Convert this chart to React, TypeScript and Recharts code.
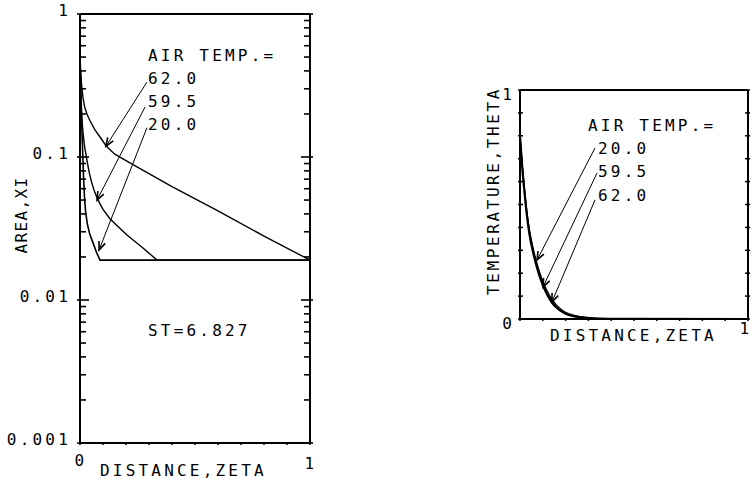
import React from "react";
import { LineChart, Line, XAxis, YAxis, ReferenceLine } from "recharts";

// left panel: AREA, XI (log scale) vs DISTANCE, ZETA
const area62 = [
  { x: 0, y: 0.5 }, { x: 0.003, y: 0.4 }, { x: 0.007, y: 0.32 }, { x: 0.013, y: 0.26 },
  { x: 0.02, y: 0.225 }, { x: 0.03, y: 0.2 }, { x: 0.043, y: 0.18 }, { x: 0.065, y: 0.155 },
  { x: 0.087, y: 0.138 }, { x: 0.113, y: 0.12 }, { x: 0.15, y: 0.105 }, { x: 0.217, y: 0.091 },
  { x: 0.4, y: 0.062 }, { x: 0.6, y: 0.042 }, { x: 0.8, y: 0.028 }, { x: 1, y: 0.019 },
];
const area595 = [
  { x: 0, y: 0.5 }, { x: 0.002, y: 0.36 }, { x: 0.005, y: 0.25 }, { x: 0.009, y: 0.18 },
  { x: 0.013, y: 0.148 }, { x: 0.02, y: 0.118 }, { x: 0.03, y: 0.095 }, { x: 0.04, y: 0.078 },
  { x: 0.05, y: 0.067 }, { x: 0.062, y: 0.058 }, { x: 0.074, y: 0.052 }, { x: 0.087, y: 0.047 },
  { x: 0.1, y: 0.043 }, { x: 0.13, y: 0.037 }, { x: 0.204, y: 0.0285 }, { x: 0.27, y: 0.0234 },
  { x: 0.335, y: 0.019 }, { x: 1, y: 0.019 },
];
const area20 = [
  { x: 0, y: 0.5 }, { x: 0.002, y: 0.34 }, { x: 0.005, y: 0.22 }, { x: 0.008, y: 0.16 },
  { x: 0.011, y: 0.115 }, { x: 0.015, y: 0.075 }, { x: 0.019, y: 0.054 }, { x: 0.024, y: 0.042 },
  { x: 0.032, y: 0.034 }, { x: 0.042, y: 0.029 }, { x: 0.057, y: 0.025 }, { x: 0.072, y: 0.0215 },
  { x: 0.087, y: 0.019 }, { x: 1, y: 0.019 },
];

// right panel: TEMPERATURE, THETA vs DISTANCE, ZETA
const theta20 = [
  { x: 0, y: 0.8 }, { x: 0.01, y: 0.66 }, { x: 0.02, y: 0.55 }, { x: 0.03, y: 0.455 },
  { x: 0.04, y: 0.38 }, { x: 0.06, y: 0.28 }, { x: 0.08, y: 0.205 }, { x: 0.1, y: 0.148 },
  { x: 0.12, y: 0.105 }, { x: 0.14, y: 0.072 }, { x: 0.16, y: 0.05 }, { x: 0.18, y: 0.034 },
  { x: 0.2, y: 0.023 }, { x: 0.23, y: 0.013 }, { x: 0.27, y: 0.007 }, { x: 0.32, y: 0.003 },
  { x: 0.4, y: 0.001 }, { x: 0.5, y: 0.0003 }, { x: 1, y: 0 },
];
const theta595 = [
  { x: 0, y: 0.8 }, { x: 0.01, y: 0.67 }, { x: 0.02, y: 0.56 }, { x: 0.03, y: 0.465 },
  { x: 0.04, y: 0.39 }, { x: 0.06, y: 0.29 }, { x: 0.08, y: 0.215 }, { x: 0.1, y: 0.157 },
  { x: 0.12, y: 0.113 }, { x: 0.14, y: 0.079 }, { x: 0.16, y: 0.055 }, { x: 0.18, y: 0.038 },
  { x: 0.2, y: 0.026 }, { x: 0.23, y: 0.015 }, { x: 0.27, y: 0.008 }, { x: 0.32, y: 0.0035 },
  { x: 0.4, y: 0.0012 }, { x: 0.5, y: 0.0004 }, { x: 1, y: 0 },
];
const theta62 = [
  { x: 0, y: 0.8 }, { x: 0.01, y: 0.68 }, { x: 0.02, y: 0.57 }, { x: 0.03, y: 0.475 },
  { x: 0.04, y: 0.4 }, { x: 0.06, y: 0.3 }, { x: 0.08, y: 0.225 }, { x: 0.1, y: 0.166 },
  { x: 0.12, y: 0.121 }, { x: 0.14, y: 0.087 }, { x: 0.16, y: 0.062 }, { x: 0.18, y: 0.043 },
  { x: 0.2, y: 0.03 }, { x: 0.23, y: 0.018 }, { x: 0.27, y: 0.009 }, { x: 0.32, y: 0.004 },
  { x: 0.4, y: 0.0014 }, { x: 0.5, y: 0.0005 }, { x: 1, y: 0 },
];

// annotation arrows (label end -> curve), in data units
const areaArrows = [
  { from: { x: 0.291, y: 0.334 }, to: { x: 0.113, y: 0.119 } },
  { from: { x: 0.283, y: 0.224 }, to: { x: 0.074, y: 0.05 } },
  { from: { x: 0.291, y: 0.16 }, to: { x: 0.083, y: 0.0224 } },
];
const thetaArrows = [
  { from: { x: 0.329, y: 0.747 }, to: { x: 0.075, y: 0.258 } },
  { from: { x: 0.338, y: 0.638 }, to: { x: 0.101, y: 0.14 } },
  { from: { x: 0.329, y: 0.52 }, to: { x: 0.14, y: 0.074 } },
];

const zetaTicks = [0, 0.1, 0.2, 0.3, 0.4, 0.5, 0.6, 0.7, 0.8, 0.9, 1];
const thetaTicks = [0, 0.1, 0.2, 0.3, 0.4, 0.5, 0.6, 0.7, 0.8, 0.9, 1];
const logTicks = [
  0.001, 0.002, 0.003, 0.004, 0.005, 0.006, 0.007, 0.008, 0.009,
  0.01, 0.02, 0.03, 0.04, 0.05, 0.06, 0.07, 0.08, 0.09,
  0.1, 0.2, 0.3, 0.4, 0.5, 0.6, 0.7, 0.8, 0.9, 1,
];
const logMajor = [0.001, 0.01, 0.1, 1];
const logLabels = ["0.001", "0.01", "0.1", "1"];

const leftLabels = ["62.0", "59.5", "20.0"];
const rightLabels = ["20.0", "59.5", "62.0"];

const FONT = '"DejaVu Sans Mono", "Liberation Mono", monospace';
const txt = { fontFamily: FONT, fontSize: 16, letterSpacing: 3.2, fill: "#000" } as const;
const AX = { stroke: "#000", strokeWidth: 2 };

function Arrow(props: any) {
  const { x1, y1, x2, y2 } = props;
  const a = Math.atan2(y2 - y1, x2 - x1);
  const L = 9;
  const s = 0.38;
  const p1 = `${x2 - L * Math.cos(a - s)},${y2 - L * Math.sin(a - s)}`;
  const p2 = `${x2 - L * Math.cos(a + s)},${y2 - L * Math.sin(a + s)}`;
  return (
    <g>
      <line x1={x1} y1={y1} x2={x2} y2={y2} stroke="#000" strokeWidth={1} />
      <polyline points={`${p1} ${x2},${y2} ${p2}`} fill="none" stroke="#000" strokeWidth={1.6} />
    </g>
  );
}

const leftLogTick = (props: any) => {
  const { x, y, payload } = props;
  const i = logMajor.indexOf(payload.value);
  return (
    <g>
      <line x1={x - (i >= 0 ? 3 : 0)} y1={y} x2={x + (i >= 0 ? 9 : 6)} y2={y} stroke="#000" strokeWidth={1.6} />
      {i >= 0 && (
        <text x={x - 9} y={y - 4} dy="0.35em" textAnchor="end" style={txt}>
          {logLabels[i]}
        </text>
      )}
    </g>
  );
};
const rightLogTick = (props: any) => {
  const { x, y, payload } = props;
  const major = logMajor.includes(payload.value);
  return <line x1={x - (major ? 9 : 6)} y1={y} x2={x + (major ? 3 : 0)} y2={y} stroke="#000" strokeWidth={1.6} />;
};

const makeBottomTick = (labels: Record<number, number>, dx: number) => (props: any) => {
  const { x, y, payload } = props;
  const v = payload.value;
  return (
    <g>
      <line x1={x} y1={y} x2={x} y2={y + 2} stroke="#000" strokeWidth={1.5} />
      {labels[v] !== undefined && (
        <text x={x + dx} y={y + labels[v]} dy="0.35em" textAnchor="middle" style={txt}>
          {v}
        </text>
      )}
    </g>
  );
};
const topTick = (props: any) => {
  const { x, y } = props;
  return <line x1={x} y1={y} x2={x} y2={y - 2} stroke="#000" strokeWidth={1.5} />;
};
const leftLinTick = (props: any) => {
  const { x, y, payload } = props;
  const v = payload.value;
  return (
    <g>
      <line x1={x - 2} y1={y} x2={x + 3} y2={y} stroke="#000" strokeWidth={1.5} />
      {(v === 0 || v === 1) && (
        <text x={x - 5} y={y + 4} dy="0.35em" textAnchor="end" style={txt}>
          {v}
        </text>
      )}
    </g>
  );
};
const rightLinTick = (props: any) => {
  const { x, y } = props;
  return <line x1={x - 3} y1={y} x2={x + 2} y2={y} stroke="#000" strokeWidth={1.5} />;
};

const lineStyle = { dot: false, stroke: "#000", isAnimationActive: false, dataKey: "y" };

export default function App() {
  return (
    <div style={{ position: "absolute", left: 0, top: 0, width: 752, height: 482, background: "#fff", overflow: "hidden" }}>
      <div style={{ position: "absolute", left: 0, top: 0 }}>
        <LineChart width={340} height={482} margin={{ top: 4, right: 20, bottom: 9, left: 10 }}>
          <XAxis xAxisId="b" type="number" dataKey="x" domain={[0, 1]} ticks={zetaTicks} interval={0}
            tickSize={0} tickMargin={0} height={30} axisLine={AX} tick={makeBottomTick({ 0: 17, 1: 20 }, 1)} allowDataOverflow />
          <XAxis xAxisId="t" orientation="top" type="number" dataKey="x" domain={[0, 1]} ticks={zetaTicks} interval={0}
            tickSize={0} tickMargin={0} height={10} axisLine={AX} tick={topTick} />
          <YAxis yAxisId="l" scale="log" type="number" domain={[0.001, 1]} ticks={logTicks} interval={0}
            tickSize={0} tickMargin={0} width={70} axisLine={AX} tick={leftLogTick} allowDataOverflow />
          <YAxis yAxisId="r" orientation="right" scale="log" type="number" domain={[0.001, 1]} ticks={logTicks} interval={0}
            tickSize={0} tickMargin={0} width={10} axisLine={AX} tick={rightLogTick} allowDataOverflow />
          <Line {...lineStyle} type="linear" data={area62} xAxisId="b" yAxisId="l" strokeWidth={1.4} />
          <Line {...lineStyle} type="linear" data={area595} xAxisId="b" yAxisId="l" strokeWidth={1.4} />
          <Line {...lineStyle} type="linear" data={area20} xAxisId="b" yAxisId="l" strokeWidth={1.6} />
          {areaArrows.map((a, i) => (
            <ReferenceLine key={i} xAxisId="b" yAxisId="l" segment={[a.from, a.to]} shape={Arrow} ifOverflow="visible" />
          ))}
        </LineChart>
      </div>

      <div style={{ position: "absolute", left: 440, top: 70 }}>
        <LineChart width={312} height={412} margin={{ top: 10, right: 0, bottom: 133, left: 10 }}>
          <XAxis xAxisId="b" type="number" dataKey="x" domain={[0, 1]} ticks={zetaTicks} interval={0}
            tickSize={0} tickMargin={0} height={30} axisLine={AX} tick={makeBottomTick({ 1: 9 }, -2)} allowDataOverflow />
          <XAxis xAxisId="t" orientation="top" type="number" dataKey="x" domain={[0, 1]} ticks={zetaTicks} interval={0}
            tickSize={0} tickMargin={0} height={10} axisLine={AX} tick={topTick} />
          <YAxis yAxisId="l" type="number" domain={[0, 1]} ticks={thetaTicks} interval={0}
            tickSize={0} tickMargin={0} width={70} axisLine={AX} tick={leftLinTick} allowDataOverflow />
          <YAxis yAxisId="r" orientation="right" type="number" domain={[0, 1]} ticks={thetaTicks} interval={0}
            tickSize={0} tickMargin={0} width={4} axisLine={AX} tick={rightLinTick} allowDataOverflow />
          <Line {...lineStyle} type="monotone" data={theta62} xAxisId="b" yAxisId="l" strokeWidth={1.1} />
          <Line {...lineStyle} type="monotone" data={theta595} xAxisId="b" yAxisId="l" strokeWidth={1.1} />
          <Line {...lineStyle} type="monotone" data={theta20} xAxisId="b" yAxisId="l" strokeWidth={2.2} />
          {thetaArrows.map((a, i) => (
            <ReferenceLine key={i} xAxisId="b" yAxisId="l" segment={[a.from, a.to]} shape={Arrow} ifOverflow="visible" />
          ))}
        </LineChart>
      </div>

      <svg width={752} height={482} style={{ position: "absolute", left: 0, top: 0, pointerEvents: "none" }}>
        <text x={148} y={55} dy="0.35em" style={txt}>AIR TEMP.=</text>
        {leftLabels.map((l, i) => (
          <text key={l} x={148} y={78 + i * 23} dy="0.35em" style={txt}>{l}</text>
        ))}
        <text x={148} y={330} dy="0.35em" style={txt}>ST=6.827</text>
        <text x={100} y={470} dy="0.35em" style={txt}>DISTANCE,ZETA</text>
        <text x={21} y={215} dy="0.35em" textAnchor="middle" transform="rotate(-90 21 215)" style={{ ...txt, letterSpacing: 1.4 }}>
          AREA,XI
        </text>

        <text x={588} y={125} dy="0.35em" style={txt}>AIR TEMP.=</text>
        {rightLabels.map((l, i) => (
          <text key={l} x={598} y={148 + i * 23.5} dy="0.35em" style={txt}>{l}</text>
        ))}
        <text x={550} y={335} dy="0.35em" style={txt}>DISTANCE,ZETA</text>
        <text x={493} y={191} dy="0.35em" textAnchor="middle" transform="rotate(-90 493 191)" style={{ ...txt, letterSpacing: 2.6 }}>
          TEMPERATURE,THETA
        </text>
      </svg>
    </div>
  );
}
